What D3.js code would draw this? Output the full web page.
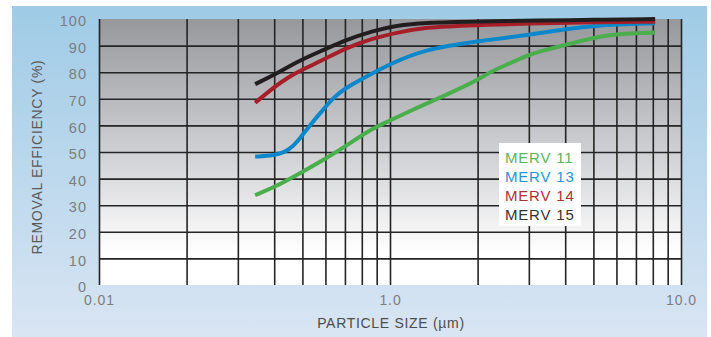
<!DOCTYPE html>
<html><head><meta charset="utf-8">
<script src="https://cdn.jsdelivr.net/npm/d3@7"></script>
<style>
body{margin:0;background:#fff}
svg{display:block}
text{font-family:"Liberation Sans",Arial,Helvetica,sans-serif}
</style>
</head><body>
<svg id="c" width="711" height="337"></svg>
<script>
// ---- data (particle size in µm, removal efficiency in %) ----
const merv11 = [[0.344,33.8],[0.40,36.7],[0.49,42],[0.59,47],[0.70,52],[0.87,58.9],[1.0,61.8],[1.3,67.7],[1.6,72],[2.0,77],[2.2,80],[2.5,82.7],[3.0,86.5],[3.3,88],[4.0,90.2],[5.0,93],[6.0,94.4],[8.15,94.9]];
const merv13 = [[0.344,48.3],[0.40,48.6],[0.45,50.5],[0.49,55],[0.53,60],[0.59,66],[0.64,70.5],[0.70,74],[0.87,79.6],[1.0,83],[1.3,88.5],[2.0,91.7],[3.0,94],[4.0,96.2],[5.0,97.6],[8.15,98.4]];
const merv14 = [[0.344,68.5],[0.40,74.5],[0.45,78.3],[0.49,80.5],[0.59,84.6],[0.70,89],[0.87,92.7],[1.05,94.8],[1.3,96.9],[2.0,97.7],[3.0,98.3],[5.0,98.8],[8.15,99]];
const merv15 = [[0.344,75.5],[0.40,79],[0.49,84.5],[0.59,88.3],[0.70,92],[0.87,95.5],[1.05,97.5],[1.3,98.6],[2.0,99.1],[3.3,99.4],[5.0,99.7],[8.15,100]];
const seriesNames = ["MERV 11","MERV 13","MERV 14","MERV 15"];
const xTickValues = [0.1, 1, 10];
const xTickLabels = ["0.01", "1.0", "10.0"];
const yTickValues = [0,10,20,30,40,50,60,70,80,90,100];
const xGridValues = [0.1,0.2,0.3,0.4,0.5,0.6,0.7,0.8,0.9,1,2,3,4,5,6,7,8,9,10];
const yGridValues = [10,20,30,40,50,60,70,80,90];

// ---- layout ----
const svg = d3.select("#c");
const L = 99, R = 681, T = 19, B = 285;
const lineColors = ["#4aae4c","#0b88cc","#a61f28","#221e1f"];
const textColors = ["#5ab65c","#2596d4","#ad3036","#333333"];

const defs = svg.append("defs");
const bg = defs.append("linearGradient").attr("id","bg").attr("x1",0).attr("y1",0).attr("x2",0).attr("y2",1);
bg.append("stop").attr("offset","0%").attr("stop-color","#9fcbe6");
bg.append("stop").attr("offset","100%").attr("stop-color","#d9e5f3");
const pg = defs.append("linearGradient").attr("id","pg").attr("x1",0).attr("y1",0).attr("x2",0).attr("y2",1);
pg.append("stop").attr("offset","0%").attr("stop-color","#97989c");
pg.append("stop").attr("offset","50%").attr("stop-color","#cfd0d3");
pg.append("stop").attr("offset","88%").attr("stop-color","#ffffff");
pg.append("stop").attr("offset","100%").attr("stop-color","#ffffff");

svg.append("rect").attr("x",12).attr("y",6).attr("width",695).attr("height",331).attr("fill","url(#bg)");

const x = d3.scaleLog().domain([0.1,10]).range([L,R]);
const y = d3.scaleLinear().domain([0,100]).range([B,T]);

svg.append("rect").attr("x",L).attr("y",T).attr("width",R-L).attr("height",B-T).attr("fill","url(#pg)");

// grid
const gx = svg.append("g").attr("transform",`translate(0,${B})`)
  .call(d3.axisBottom(x).tickValues(xGridValues).tickSize(-(B-T)).tickFormat(""));
gx.select(".domain").remove();
gx.selectAll("line").attr("stroke","#242424").attr("stroke-width",1.6);

const gy = svg.append("g").attr("transform",`translate(${L},0)`)
  .call(d3.axisLeft(y).tickValues(yGridValues).tickSize(-(R-L)).tickFormat(""));
gy.select(".domain").remove();
gy.selectAll("line").attr("stroke","#242424").attr("stroke-width",1.6);

// axis labels
const ax = svg.append("g").attr("transform",`translate(0,${B})`)
  .call(d3.axisBottom(x).tickValues(xTickValues).tickSize(0).tickPadding(0)
    .tickFormat((d,i)=>xTickLabels[i]));
ax.select(".domain").remove();
ax.selectAll("text").attr("y",20).attr("dy",0).attr("fill","#7d7d7d")
  .style("font-size","14px").style("letter-spacing","0.9px");

const ay = svg.append("g").attr("transform",`translate(${L},0)`)
  .call(d3.axisLeft(y).tickValues(yTickValues).tickSize(0).tickPadding(12));
ay.select(".domain").remove();
ay.selectAll("text").attr("dy","0.46em").attr("fill","#7d7d7d")
  .style("font-size","14.5px").style("letter-spacing","1px");

svg.append("text").attr("x",391).attr("y",328).attr("text-anchor","middle")
  .attr("fill","#4d4d4d").style("font-size","14px").style("letter-spacing","0.7px")
  .text("PARTICLE SIZE (µm)");
svg.append("text").attr("transform","translate(42,157) rotate(-90)").attr("text-anchor","middle")
  .attr("fill","#5a5a5a").style("font-size","14px").style("letter-spacing","0.7px")
  .text("REMOVAL EFFICIENCY (%)");

// curves
const line = d3.line().x(d=>x(d[0])).y(d=>y(d[1])).curve(d3.curveBasis);
[merv11, merv13, merv14, merv15].forEach((s,i)=>{
  svg.append("path").datum(s).attr("d",line).attr("fill","none")
    .attr("stroke",lineColors[i]).attr("stroke-width",4).attr("stroke-linecap","butt")
    .attr("stroke-linejoin","round");
});

// legend
const lg = svg.append("g");
lg.append("rect").attr("x",499).attr("y",143).attr("width",82).attr("height",83).attr("fill","#ffffff");
seriesNames.forEach((n,i)=>{
  lg.append("text").attr("x",505).attr("y",162.5+i*19.2).attr("fill",textColors[i])
    .style("font-size","15px").style("letter-spacing","0.8px").text(n);
});
</script>
</body></html>
